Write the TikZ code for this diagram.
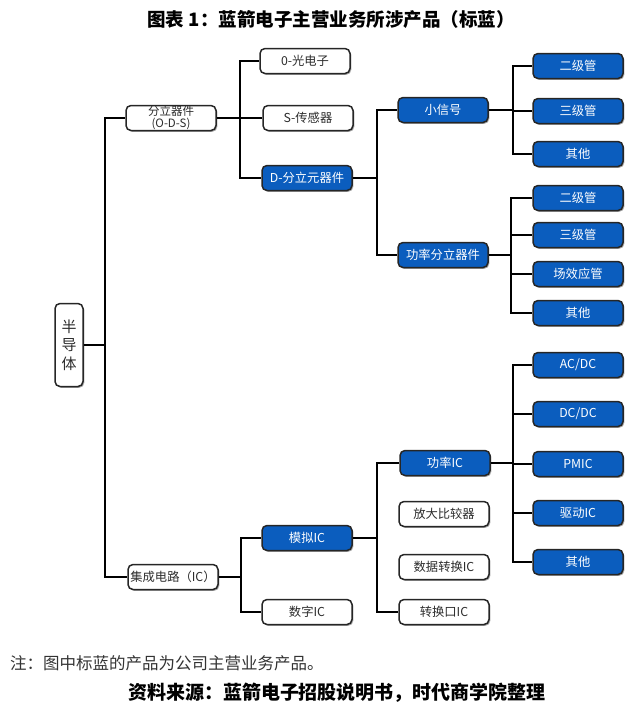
\documentclass[tikz,border=0pt]{standalone}
\usepackage{fontspec}
\setmainfont{Noto Sans CJK SC}
\usetikzlibrary{shadows}
\definecolor{ablue}{RGB}{11,93,190}
\definecolor{boxtext}{RGB}{45,45,45}
\begin{document}
\begin{tikzpicture}[x=1pt,y=-1pt,
  box/.style={draw=black!85, line width=1.5pt, rounded corners=5pt,
    minimum width=90pt, minimum height=25pt, inner sep=0pt,
    font=\fontsize{12.3}{14}\selectfont,
    drop shadow={shadow xshift=1.3pt, shadow yshift=-1.3pt, opacity=0.35, fill=black}},
  wbox/.style={box, fill=white, text=boxtext},
  bbox/.style={box, fill=ablue, text=white},
  conn/.style={line width=1.9pt, draw=black}]
\useasboundingbox (0,0) rectangle (638,710);

% titles
\node[font=\bfseries\fontsize{18.5}{20}\selectfont] (title) at (331,19) {图表 1：蓝箭电子主营业务所涉产品（标蓝）};
\node[anchor=west, inner sep=0pt, text=black!80, font=\fontsize{16.5}{18}\selectfont] (note) at (10,663) {注：图中标蓝的产品为公司主营业务产品。};
\node[font=\bfseries\fontsize{19}{20}\selectfont] (src) at (337,693) {资料来源：蓝箭电子招股说明书，时代商学院整理};

% nodes
\node[wbox, minimum width=28pt, minimum height=83pt, align=center,
  font=\fontsize{15}{18.5}\selectfont] (semi) at (69,345) {半\\导\\体};
\node[wbox, align=center, font=\fontsize{11.5}{12.5}\selectfont] (ods) at (171,118) {分立器件\\(O-D-S)};
\node[wbox] (opto) at (305,61) {0-光电子};
\node[wbox] (sens) at (308,118) {S-传感器};
\node[bbox] (dd) at (307,178) {D-分立元器件};
\node[bbox] (ss) at (443,110) {小信号};
\node[bbox] (pd) at (443,255) {功率分立器件};
\node[bbox] (s1) at (578,66) {二级管};
\node[bbox] (s2) at (578,111) {三级管};
\node[bbox] (s3) at (578,154) {其他};
\node[bbox] (p1) at (578,198) {二级管};
\node[bbox] (p2) at (578,235) {三级管};
\node[bbox] (p3) at (578,274) {场效应管};
\node[bbox] (p4) at (578,313) {其他};
\node[wbox] (ic) at (173,577) {集成电路（IC）};
\node[bbox] (ana) at (307,538) {模拟IC};
\node[wbox] (dig) at (307,612) {数字IC};
\node[bbox] (pic) at (445,463) {功率IC};
\node[wbox] (amp) at (444,514) {放大比较器};
\node[wbox] (adc) at (444,567) {数据转换IC};
\node[wbox] (ifc) at (444,612) {转换口IC};
\node[bbox] (q1) at (578,365) {AC/DC};
\node[bbox] (q2) at (578,414) {DC/DC};
\node[bbox] (q3) at (578,464) {PMIC};
\node[bbox] (q4) at (578,513) {驱动IC};
\node[bbox] (q5) at (578,562) {其他};

% connectors
\draw[conn] (semi.east) -- ++(21,0) |- (ods.west);
\draw[conn] (semi.east) -- ++(21,0) |- (ic.west);
\foreach \c in {opto,sens,dd} \draw[conn] (ods.east) -- ++(23,0) |- (\c.west);
\foreach \c in {ss,pd} \draw[conn] (dd.east) -- ++(24,0) |- (\c.west);
\foreach \c in {s1,s2,s3} \draw[conn] (ss.east) -- ++(24,0) |- (\c.west);
\foreach \c in {p1,p2,p3,p4} \draw[conn] (pd.east) -- ++(22,0) |- (\c.west);
\foreach \c in {ana,dig} \draw[conn] (ic.east) -- ++(22,0) |- (\c.west);
\foreach \c in {pic,ifc} \draw[conn] (ana.east) -- ++(24,0) |- (\c.west);
\foreach \c in {q1,q2,q3,q4,q5} \draw[conn] (pic.east) -- ++(22,0) |- (\c.west);
\end{tikzpicture}
\end{document}
